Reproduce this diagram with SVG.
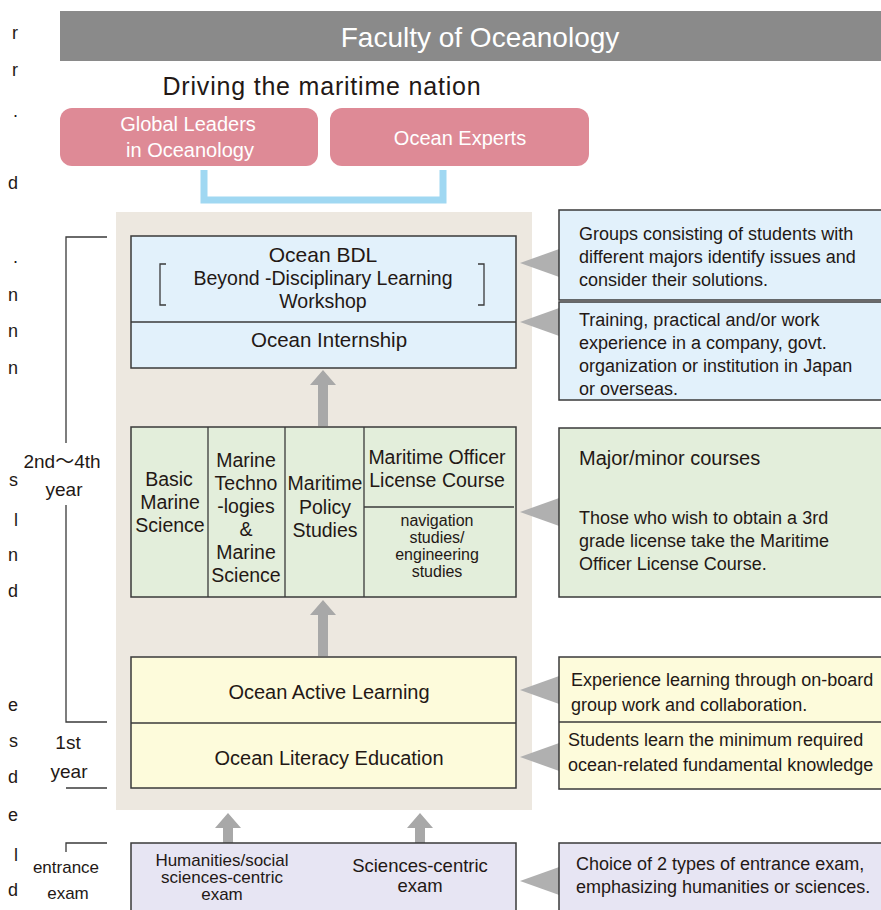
<svg xmlns="http://www.w3.org/2000/svg" width="881" height="910" viewBox="0 0 881 910">
<style>
text{font-family:"Liberation Sans",Arial,"Noto Sans CJK JP",sans-serif;fill:#231815}
.c{text-anchor:middle}
.w{fill:#ffffff}
.box{stroke:#3a3a3a;stroke-width:1.5}
.ln{stroke:#3a3a3a;stroke-width:1.3;fill:none}
.blue{fill:#e2f1fb}.green{fill:#e3eedb}.yellow{fill:#fdfbdb}.purple{fill:#e7e5f3}
.ptr{fill:#b0b0b0}
.arr{fill:#a8a8a8}
.t20{font-size:20px}.t18{font-size:18px}.t19{font-size:19.5px}
.frag{font-size:18px;text-anchor:end}
</style>

<g id="fragments">
<text class="frag" x="18" y="39">r</text>
<text class="frag" x="18" y="76">r</text>
<text class="frag" x="18" y="117">.</text>
<text class="frag" x="18" y="189">d</text>
<text class="frag" x="18" y="263">.</text>
<text class="frag" x="18" y="301">n</text>
<text class="frag" x="18" y="337">n</text>
<text class="frag" x="18" y="374">n</text>
<text class="frag" x="18" y="486">s</text>
<text class="frag" x="18" y="526">l</text>
<text class="frag" x="18" y="561">n</text>
<text class="frag" x="18" y="597">d</text>
<text class="frag" x="18" y="711">e</text>
<text class="frag" x="18" y="747">s</text>
<text class="frag" x="18" y="783">d</text>
<text class="frag" x="18" y="821">e</text>
<text class="frag" x="18" y="861">l</text>
<text class="frag" x="18" y="896">d</text>
</g>

<g id="header">
<rect x="60" y="11" width="825" height="50" fill="#8a8a8a"/>
<text class="c w" x="480" y="47" font-size="28">Faculty of Oceanology</text>
</g>

<g id="subtitle">
<text class="c" x="322" y="95" font-size="25" letter-spacing="0.8">Driving the maritime nation</text>
</g>

<g id="global-leaders">
<rect x="60" y="108" width="258" height="58" rx="12" fill="#de8a96"/>
<text class="c w t20" x="188" y="131">Global Leaders</text>
<text class="c w t20" x="190" y="157">in Oceanology</text>
</g>
<g id="ocean-experts">
<rect x="330" y="108" width="259" height="58" rx="12" fill="#de8a96"/>
<text class="c w t20" x="460" y="145">Ocean Experts</text>
</g>

<g id="panel">
<rect x="116" y="212" width="416" height="598" fill="#ede8e0"/>
</g>

<g id="connectors">
<path d="M204,170 V200 H443 V170" fill="none" stroke="#a0d8f2" stroke-width="7"/>
<path class="arr" d="M318,426 V385 H310 L323,370 L336,385 H328 V426 Z"/>
<path class="arr" d="M318,656 V615 H310 L323,600 L336,615 H328 V656 Z"/>
<path class="arr" d="M223,843 V828 H215 L228,813 L241,828 H233 V843 Z"/>
<path class="arr" d="M415,843 V828 H407 L420,813 L433,828 H425 V843 Z"/>
<path class="ptr" d="M520,263 L562,248 L562,278 Z"/>
<path class="ptr" d="M520,322 L562,307 L562,337 Z"/>
<path class="ptr" d="M520,512 L562,497 L562,527 Z"/>
<path class="ptr" d="M520,690 L562,675 L562,705 Z"/>
<path class="ptr" d="M520,757 L562,742 L562,772 Z"/>
<path class="ptr" d="M520,881 L562,866 L562,896 Z"/>
</g>

<g id="year-labels">
<path class="ln" d="M107,237 H66 V443"/>
<path class="ln" d="M66,505 V722 H107"/>
<path class="ln" d="M66,788 H107"/>
<path class="ln" d="M66,852 V843 H107"/>
<text class="c" x="62" y="468" font-size="19">2nd～4th</text>
<text class="c" x="64" y="496" font-size="19">year</text>
<text class="c" x="68" y="749" font-size="19">1st</text>
<text class="c" x="69" y="778" font-size="19">year</text>
<text class="c" x="66" y="873" font-size="17">entrance</text>
<text class="c" x="68" y="899" font-size="17">exam</text>
</g>

<g id="ocean-bdl">
<rect class="box blue" x="131" y="236" width="385" height="132"/>
<line class="ln" x1="131" y1="322" x2="516" y2="322"/>
<path class="ln" d="M166,264 H160 V305 H166" stroke-width="1.8"/>
<path class="ln" d="M478,264 H484 V305 H478" stroke-width="1.8"/>
<text class="c" x="323" y="262" font-size="21">Ocean BDL</text>
<text class="c t19" x="323" y="285">Beyond -Disciplinary Learning</text>
<text class="c t19" x="323" y="308">Workshop</text>
<text class="c" x="329" y="347" font-size="20.5">Ocean Internship</text>
</g>

<g id="majors">
<rect class="box green" x="131" y="427" width="385" height="170"/>
<line class="ln" x1="208" y1="427" x2="208" y2="597"/>
<line class="ln" x1="285" y1="427" x2="285" y2="597"/>
<line class="ln" x1="364" y1="427" x2="364" y2="597"/>
<line class="ln" x1="364" y1="507" x2="514" y2="507"/>
<text class="c t19" x="169" y="486">Basic</text>
<text class="c t19" x="170" y="509">Marine</text>
<text class="c t19" x="170" y="532">Science</text>
<text class="c t19" x="246" y="467">Marine</text>
<text class="c t19" x="246" y="490">Techno</text>
<text class="c t19" x="246" y="513">-logies</text>
<text class="c t19" x="246" y="536">&amp;</text>
<text class="c t19" x="246" y="559">Marine</text>
<text class="c t19" x="246" y="582">Science</text>
<text class="c t19" x="325" y="490">Maritime</text>
<text class="c t19" x="325" y="514">Policy</text>
<text class="c t19" x="325" y="537">Studies</text>
<text class="c t19" x="437" y="464">Maritime Officer</text>
<text class="c t19" x="437" y="487">License Course</text>
<text class="c" x="437" y="526" font-size="16">navigation</text>
<text class="c" x="437" y="543" font-size="16">studies/</text>
<text class="c" x="437" y="560" font-size="16">engineering</text>
<text class="c" x="437" y="577" font-size="16">studies</text>
</g>

<g id="first-year">
<rect class="box yellow" x="131" y="657" width="385" height="131"/>
<line class="ln" x1="131" y1="723" x2="516" y2="723"/>
<text class="c t20" x="329" y="699">Ocean Active Learning</text>
<text class="c t20" x="329" y="765">Ocean Literacy Education</text>
</g>

<g id="entrance">
<rect class="box purple" x="131" y="843" width="385" height="75"/>
<text class="c" x="222" y="866" font-size="17">Humanities/social</text>
<text class="c" x="222" y="883" font-size="17">sciences-centric</text>
<text class="c" x="222" y="900" font-size="17">exam</text>
<text class="c" x="420" y="872" font-size="18.5">Sciences-centric</text>
<text class="c" x="420" y="892" font-size="18.5">exam</text>
</g>

<g id="note-bdl">
<rect class="box blue" x="559" y="210" width="330" height="90"/>
<text class="t18" x="579" y="240">Groups consisting of students with</text>
<text class="t18" x="579" y="263">different majors identify issues and</text>
<text class="t18" x="579" y="286">consider their solutions.</text>
</g>
<g id="note-internship">
<rect class="box blue" x="559" y="302" width="330" height="98"/>
<text class="t18" x="579" y="326">Training, practical and/or work</text>
<text class="t18" x="579" y="349">experience in a company, govt.</text>
<text class="t18" x="579" y="372">organization or institution in Japan</text>
<text class="t18" x="579" y="395">or overseas.</text>
</g>
<g id="note-majors">
<rect class="box green" x="559" y="428" width="330" height="169"/>
<text class="t20" x="579" y="465">Major/minor courses</text>
<text class="t18" x="579" y="524">Those who wish to obtain a 3rd</text>
<text class="t18" x="579" y="547">grade license take the Maritime</text>
<text class="t18" x="579" y="570">Officer License Course.</text>
</g>
<g id="note-first-year">
<rect class="box yellow" x="559" y="657" width="330" height="132"/>
<line class="ln" x1="559" y1="722" x2="889" y2="722"/>
<text class="t18" x="571" y="686">Experience learning through on-board</text>
<text class="t18" x="571" y="711">group work and collaboration.</text>
<text class="t18" x="568" y="746">Students learn the minimum required</text>
<text class="t18" x="568" y="771">ocean-related fundamental knowledge</text>
</g>
<g id="note-entrance">
<rect class="box purple" x="559" y="843" width="330" height="75"/>
<text class="t18" x="576" y="870">Choice of 2 types of entrance exam,</text>
<text class="t18" x="576" y="893">emphasizing humanities or sciences.</text>
</g>
</svg>
